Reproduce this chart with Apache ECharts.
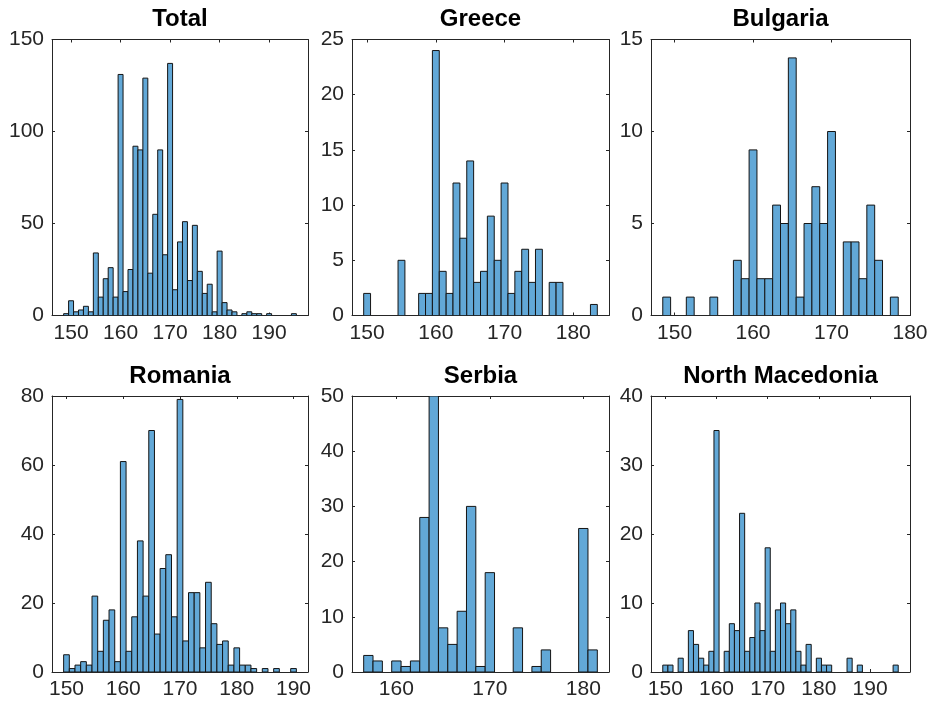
<!DOCTYPE html>
<html><head><meta charset="utf-8">
<script src="https://cdn.jsdelivr.net/npm/echarts@6/dist/echarts.min.js"></script>
<style>html,body{margin:0;padding:0;background:#fff}#c{width:929px;height:705px}</style>
</head><body><div id="c"></div>
<script>
// ---- data (height in cm -> count) ----
const panelTitles = ['Total', 'Greece', 'Bulgaria', 'Romania', 'Serbia', 'North Macedonia'];

const totalHeights = [149,150,151,152,153,154,155,156,157,158,159,160,161,162,163,164,165,166,167,168,169,170,171,172,173,174,175,176,177,178,179,180,181,182,183,185,186,187,188,190,195];
const totalCounts  = [1,8,2,3,5,2,34,10,20,26,10,131,13,25,92,90,129,23,55,90,33,137,14,40,51,19,49,24,12,17,2,35,7,3,2,1,2,1,1,1,1];

const greeceHeights = [150,155,158,159,160,161,162,163,164,165,166,167,168,169,170,171,172,173,174,175,177,178,183];
const greeceCounts  = [2,5,2,2,24,4,2,12,7,14,3,4,9,5,12,2,4,6,3,6,3,3,1];

const bulgariaHeights = [149,152,155,158,159,160,161,162,163,164,165,166,167,168,169,170,172,173,174,175,176,178];
const bulgariaCounts  = [1,1,1,3,2,9,2,2,6,5,14,1,5,7,5,10,4,4,2,6,3,1];

const romaniaHeights = [150,151,152,153,154,155,156,157,158,159,160,161,162,163,164,165,166,167,168,169,170,171,172,173,174,175,176,177,178,179,180,181,182,183,185,187,190];
const romaniaCounts  = [5,1,2,3,2,22,6,15,18,3,61,6,16,38,22,70,11,30,34,16,79,9,23,23,7,26,14,8,9,2,7,2,2,1,1,1,1];

const serbiaHeights = [157,158,160,161,162,163,164,165,166,167,168,169,170,173,175,176,180,181];
const serbiaCounts  = [3,2,2,1,2,28,50,8,5,11,30,1,18,8,1,4,26,4];

const macedoniaHeights = [150,151,153,155,156,157,158,159,160,162,163,164,165,166,167,168,169,170,171,172,173,174,175,176,177,178,180,181,182,186,188,195];
const macedoniaCounts  = [1,1,2,6,4,2,1,3,35,3,7,6,23,3,5,10,6,18,3,9,10,7,9,3,1,4,2,1,1,2,1,1];

// axis ranges and tick labels
const xRanges = [[146.15,197.85],[147.8,185.2],[147,180],[147.45,192.55],[155.25,182.75],[147.2,197.8]];
const xTickLabels = [[150,160,170,180,190],[150,160,170,180],[150,160,170,180],[150,160,170,180,190],[160,170,180],[150,160,170,180,190]];
const yMax = [150, 25, 15, 80, 50, 40];
const yStep = [50, 5, 5, 20, 10, 10];

const allHeights = [totalHeights, greeceHeights, bulgariaHeights, romaniaHeights, serbiaHeights, macedoniaHeights];
const allCounts = [totalCounts, greeceCounts, bulgariaCounts, romaniaCounts, serbiaCounts, macedoniaCounts];

// ---- layout ----
const FONT = '"Liberation Sans", Arial, Helvetica, sans-serif';
const AX = '#262626';
const colLeft = [52, 352, 651];
const colWidth = [256, 257, 259];
const rowTop = [39.5, 396];
const plotH = 276;
const titleY = [19, 376];
const BIN = 1;

const grids = [], xAxes = [], yAxes = [], series = [], graphics = [];
for (let i = 0; i < 6; i++) {
  const r = Math.floor(i / 3), c = i % 3;
  grids.push({left: colLeft[c], top: rowTop[r], width: colWidth[c], height: plotH, outerBoundsMode: 'none', containLabel: false});
  const xCommon = {type: 'value', gridIndex: i, min: xRanges[i][0], max: xRanges[i][1], splitLine: {show: false},
    axisLine: {show: true, onZero: false, lineStyle: {color: AX, width: 1}},
    axisTick: {show: true, inside: true, length: 3, customValues: xTickLabels[i], lineStyle: {color: AX}}};
  xAxes.push(Object.assign({}, xCommon, {position: 'bottom',
    axisLabel: {show: true, customValues: xTickLabels[i], color: AX, fontSize: 21, fontFamily: FONT, margin: 7}}));
  xAxes.push(Object.assign({}, xCommon, {position: 'top', axisLabel: {show: false}}));
  const yCommon = {type: 'value', gridIndex: i, min: 0, max: yMax[i], interval: yStep[i], splitLine: {show: false},
    axisLine: {show: true, onZero: false, lineStyle: {color: AX, width: 1}},
    axisTick: {show: true, inside: true, length: 3, lineStyle: {color: AX}}};
  yAxes.push(Object.assign({}, yCommon, {position: 'left',
    axisLabel: {show: true, color: AX, fontSize: 21, fontFamily: FONT, margin: 8}}));
  yAxes.push(Object.assign({}, yCommon, {position: 'right', axisLabel: {show: false}}));

  series.push({
    type: 'custom', xAxisIndex: 2 * i, yAxisIndex: 2 * i, clip: true,
    data: allHeights[i].map((h, k) => [h, allCounts[i][k]]),
    renderItem: function (params, api) {
      const h = api.value(0), n = api.value(1);
      const p0 = api.coord([h - BIN / 2, n]);
      const p1 = api.coord([h + BIN / 2, 0]);
      return {type: 'rect', shape: {x: p0[0], y: p0[1], width: p1[0] - p0[0], height: p1[1] - p0[1]},
        style: {fill: '#62A8D7', stroke: '#141414', lineWidth: 1}};
    }
  });

  graphics.push({type: 'text', x: colLeft[c] + colWidth[c] / 2, y: titleY[r],
    style: {text: panelTitles[i], align: 'center', verticalAlign: 'middle', fontSize: 24, fontWeight: 'bold', fontFamily: FONT, fill: '#000'}});
}

const chart = echarts.init(document.getElementById('c'), null, {renderer: 'canvas'});
chart.setOption({animation: false, backgroundColor: '#fff', grid: grids, xAxis: xAxes, yAxis: yAxes, series: series, graphic: graphics});
</script></body></html>
